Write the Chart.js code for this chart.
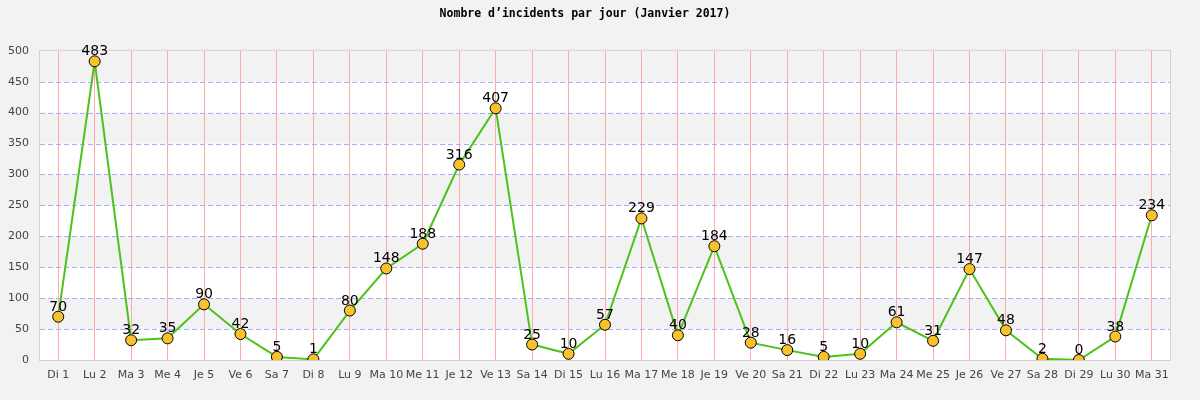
<!DOCTYPE html>
<html>
<head>
<title>Incidents Janvier 2017</title>
<script src="https://cdn.jsdelivr.net/npm/chart.js@4.4.1/dist/chart.umd.min.js"></script>
<style type="text/css">
	body { margin: 0; background: #f2f2f2; }
	#wrap { width: 1200px; height: 400px; }
</style>
</head>
<body>
<div id="wrap"><canvas id="incidents" width="1200" height="400"></canvas></div>

<script type="text/javascript">

var jours = ["Di 1","Lu 2","Ma 3","Me 4","Je 5","Ve 6","Sa 7","Di 8","Lu 9","Ma 10","Me 11","Je 12","Ve 13","Sa 14","Di 15","Lu 16","Ma 17","Me 18","Je 19","Ve 20","Sa 21","Di 22","Lu 23","Ma 24","Me 25","Je 26","Ve 27","Sa 28","Di 29","Lu 30","Ma 31"];
var incidents = [70,483,32,35,90,42,5,1,80,148,188,316,407,25,10,57,229,40,184,28,16,5,10,61,31,147,48,2,0,38,234];
var yMin = 0, yMax = 500, yStep = 50;

// fond a bandes, lignes pointillees, bordure, etiquettes
var decor = {
	id: 'decor',
	beforeDraw: function(chart) {
		var ctx = chart.ctx, a = chart.chartArea, y = chart.scales.y;
		ctx.save();
		ctx.fillStyle = '#f2f2f2';
		ctx.fillRect(0, 0, chart.width, chart.height);
		ctx.fillStyle = '#ffffff';
		ctx.fillRect(a.left, a.top, a.right - a.left, a.bottom - a.top);
		ctx.fillStyle = '#f2f2f2';
		for (var v = yStep; v < yMax; v += 2 * yStep) {
			var t = y.getPixelForValue(v + yStep), b = y.getPixelForValue(v);
			ctx.fillRect(a.left, t, a.right - a.left, b - t);
		}
		ctx.restore();
	},
	beforeDatasetsDraw: function(chart) {
		var ctx = chart.ctx, a = chart.chartArea, y = chart.scales.y;
		ctx.save();
		ctx.strokeStyle = '#aaaaff';
		ctx.lineWidth = 1;
		ctx.setLineDash([5, 3]);
		for (var v = yMin + yStep; v < yMax; v += yStep) {
			var py = Math.round(y.getPixelForValue(v)) + 0.5;
			ctx.beginPath();
			ctx.moveTo(a.left, py);
			ctx.lineTo(a.right, py);
			ctx.stroke();
		}
		ctx.restore();
	},
	afterDraw: function(chart) {
		var ctx = chart.ctx, a = chart.chartArea;
		ctx.save();
		ctx.strokeStyle = '#d0d0d0';
		ctx.lineWidth = 1;
		ctx.strokeRect(a.left - 0.5, a.top - 0.5, a.right - a.left + 1, a.bottom - a.top + 1);
		ctx.font = '14px "DejaVu Sans"';
		ctx.fillStyle = '#000';
		ctx.textAlign = 'center';
		ctx.textBaseline = 'alphabetic';
		var meta = chart.getDatasetMeta(0);
		meta.data.forEach(function(p, i) {
			ctx.fillText(String(incidents[i]), p.x, p.y - 6);
		});
		ctx.restore();
	}
};

var ctx = document.getElementById('incidents').getContext('2d');
window.graph = new Chart(ctx, {
	type: 'line',
	data: {
		labels: jours,
		datasets: [{
			data: incidents,
			borderColor: '#4cc21a',
			borderWidth: 2,
			tension: 0,
			pointRadius: 5.5,
			pointBackgroundColor: '#f8c22c',
			pointBorderColor: '#000',
			pointBorderWidth: 1
		}]
	},
	options: {
		responsive: false,
		animation: false,
		layout: { padding: { left: 0, right: 30, top: 0, bottom: 0 } },
		plugins: {
			legend: { display: false },
			tooltip: { enabled: false },
			title: {
				display: true,
				text: 'Nombre d\u2019incidents par jour (Janvier 2017)',
				color: '#000',
				font: { family: '"DejaVu Sans Mono"', size: 11.5, weight: 'bold' },
				padding: { top: 7, bottom: 30 }
			}
		},
		scales: {
			x: {
				offset: true,
				grid: { offset: false, color: '#ffaaaa', drawTicks: false },
				border: { display: false },
				ticks: { color: '#444', font: { family: '"DejaVu Sans"', size: 11 }, padding: 9, maxRotation: 0, autoSkip: false },
				afterFit: function(s) { s.height = 40; }
			},
			y: {
				min: yMin, max: yMax,
				grid: { drawOnChartArea: false, drawTicks: false },
				border: { display: false },
				ticks: { stepSize: yStep, color: '#444', font: { family: '"DejaVu Sans"', size: 11 }, padding: 11 },
				afterFit: function(s) { s.width = 40; }
			}
		}
	},
	plugins: [decor]
});

</script>
</body>
</html>
